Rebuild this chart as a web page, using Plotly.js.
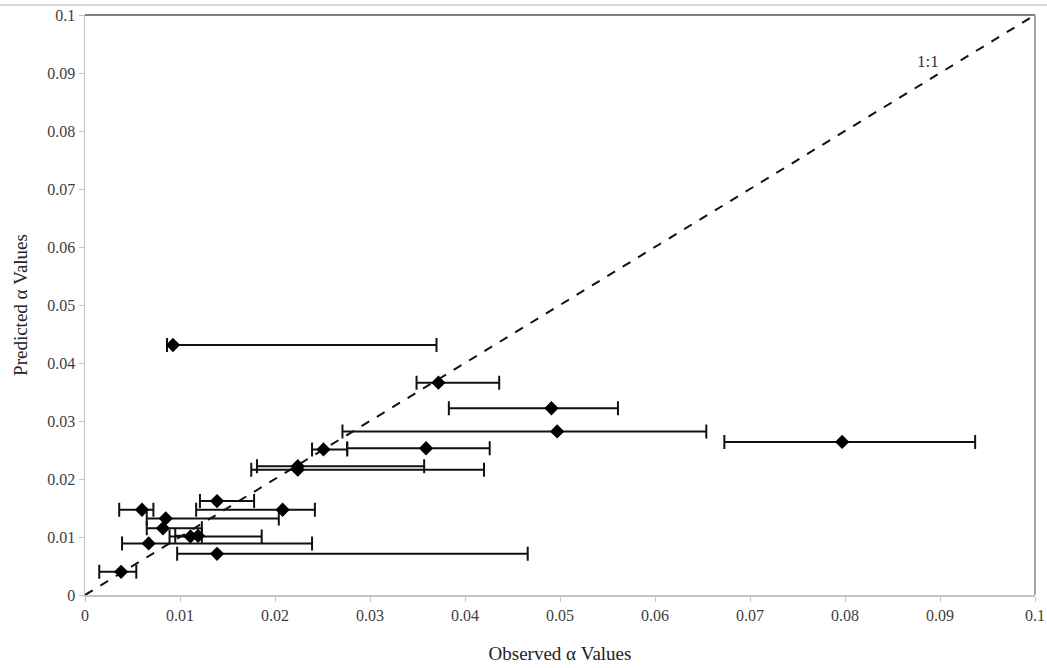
<!DOCTYPE html>
<html>
<head>
<meta charset="utf-8">
<script src="https://cdn.plot.ly/plotly-3.0.1.min.js"></script>
<style>
  html, body { margin: 0; padding: 0; background: #ffffff; }
  #chart { width: 1047px; height: 668px; }
</style>
</head>
<body>
<div id="chart"></div>
<script>
// Observed vs predicted alpha values, with the observed range as horizontal error bars
const observed  = [0.00926, 0.0372, 0.0491, 0.0497, 0.0251, 0.0359, 0.0224, 0.0224, 0.0139, 0.0060, 0.0208, 0.0085, 0.0082, 0.0067, 0.0111, 0.0119, 0.0139, 0.0038, 0.0797];
const predicted = [0.0431, 0.0366, 0.0322, 0.0282, 0.0251, 0.0253, 0.0222, 0.0216, 0.0162, 0.0147, 0.0147, 0.0132, 0.0115, 0.0089, 0.0101, 0.0102, 0.0071, 0.0040, 0.0264];
const rangeLow  = [0.00863, 0.0349, 0.0383, 0.0271, 0.0239, 0.0276, 0.0181, 0.0175, 0.0121, 0.0036, 0.0117, 0.0065, 0.0065, 0.0039, 0.0089, 0.0095, 0.0097, 0.0015, 0.0673];
const rangeHigh = [0.0370, 0.0436, 0.0561, 0.0654, 0.0276, 0.0426, 0.0357, 0.0420, 0.0178, 0.0072, 0.0242, 0.0204, 0.0123, 0.0239, 0.0186, 0.0123, 0.0466, 0.0054, 0.0937];

const tickValues = [0, 0.01, 0.02, 0.03, 0.04, 0.05, 0.06, 0.07, 0.08, 0.09, 0.1];
const tickLabels = ['0', '0.01', '0.02', '0.03', '0.04', '0.05', '0.06', '0.07', '0.08', '0.09', '0.1'];

const oneToOne = [0, 0.1];

const serif = 'Liberation Serif, Times New Roman, serif';

const traces = [
  {
    x: oneToOne, y: oneToOne, type: 'scatter', mode: 'lines',
    line: { color: '#111111', width: 2, dash: 'dash' },
    hoverinfo: 'skip', showlegend: false
  },
  {
    x: observed, y: predicted, type: 'scatter', mode: 'markers',
    marker: { symbol: 'diamond', size: 11, color: '#000000' },
    error_x: {
      type: 'data', symmetric: false,
      array: rangeHigh.map((h, i) => h - observed[i]),
      arrayminus: rangeLow.map((l, i) => observed[i] - l),
      color: '#111111', thickness: 2, width: 7
    },
    showlegend: false
  }
];

const axisCommon = {
  range: [0, 0.1],
  tickmode: 'array',
  tickvals: tickValues,
  ticktext: tickLabels,
  showgrid: false,
  zeroline: false,
  showline: true,
  linecolor: '#c4c4c4',
  linewidth: 1.5,
  ticks: 'outside',
  ticklen: 5,
  tickcolor: '#c4c4c4',
  tickfont: { family: serif, size: 16, color: '#404040' }
};

const layout = {
  width: 1047, height: 668,
  margin: { l: 85, r: 12, t: 15, b: 73 },
  paper_bgcolor: '#ffffff',
  plot_bgcolor: '#ffffff',
  showlegend: false,
  xaxis: Object.assign({}, axisCommon, {
    title: { text: 'Observed \u03b1 Values', font: { family: serif, size: 19, color: '#222222' }, standoff: 24 }
  }),
  yaxis: Object.assign({}, axisCommon, {
    title: { text: 'Predicted \u03b1 Values', font: { family: serif, size: 19, color: '#222222' }, standoff: 14 }
  }),
  shapes: [
    // frame: top and right edges of the plot area
    { type: 'line', xref: 'paper', yref: 'paper', x0: 0, x1: 1, y0: 1, y1: 1, line: { color: '#555555', width: 1.5 } },
    { type: 'line', xref: 'paper', yref: 'paper', x0: 1, x1: 1, y0: 0, y1: 1, line: { color: '#8a8a8a', width: 1.5 } },
    // outer rule across the top of the figure
    { type: 'line', xref: 'paper', yref: 'paper', x0: -85 / 950, x1: 962 / 950, y0: 1.0172, y1: 1.0172, line: { color: '#cccccc', width: 1.5 } }
  ],
  annotations: [
    { x: 0.0887, y: 0.0919, xref: 'x', yref: 'y', text: '1:1', showarrow: false,
      font: { family: serif, size: 17, color: '#333333' } }
  ]
};

Plotly.newPlot('chart', traces, layout, { staticPlot: true, displayModeBar: false });
</script>
</body>
</html>
